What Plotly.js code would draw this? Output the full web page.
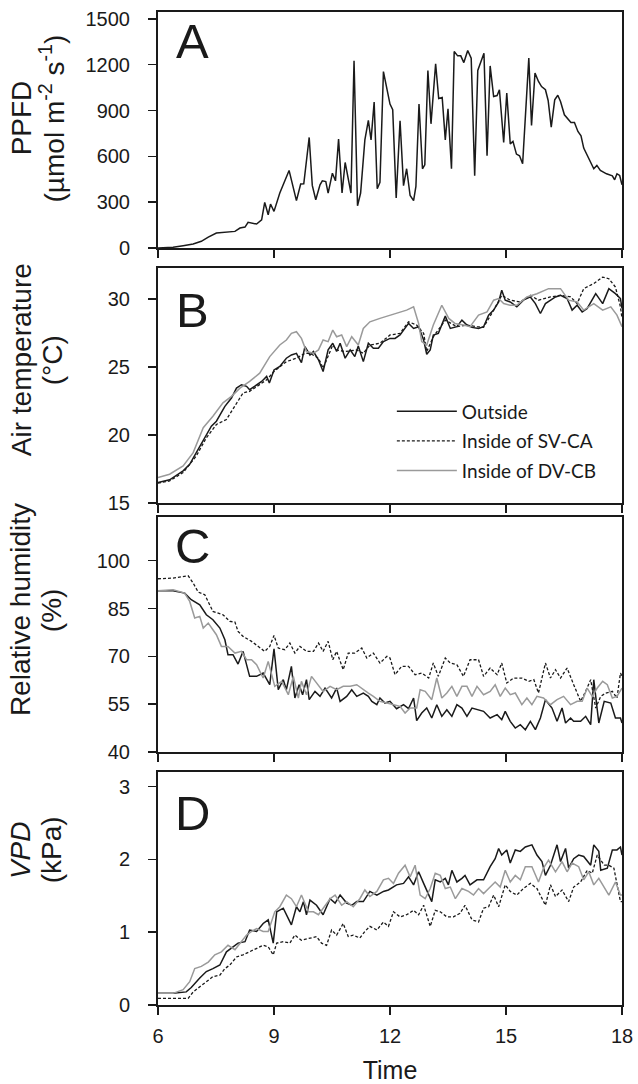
<!DOCTYPE html>
<html>
<head>
<meta charset="utf-8">
<script src="https://cdn.plot.ly/plotly-3.0.1.min.js"></script>
<style>html,body{margin:0;padding:0;background:#fff;}#chart{width:638px;height:1084px;}</style>
</head>
<body>
<div id="chart"></div>
<script>
// ---------- Panel A: PPFD (outside) ----------
const timePPFD = [6.00,6.39,6.65,6.91,7.12,7.30,7.51,7.64,7.99,8.12,8.25,8.33,8.55,8.68,8.76,8.85,8.91,9.00,9.15,9.39,9.58,9.69,9.77,9.91,9.99,10.08,10.19,10.25,10.34,10.40,10.51,10.59,10.67,10.76,10.84,10.99,11.07,11.16,11.24,11.35,11.44,11.51,11.59,11.67,11.74,11.83,12.00,12.07,12.16,12.26,12.35,12.43,12.52,12.61,12.67,12.75,12.84,12.90,12.98,13.06,13.18,13.26,13.35,13.43,13.50,13.59,13.66,13.75,13.83,13.91,14.01,14.10,14.19,14.27,14.43,14.51,14.59,14.68,14.77,14.83,14.94,15.02,15.11,15.18,15.27,15.35,15.43,15.59,15.66,15.75,15.84,15.92,16.02,16.09,16.17,16.26,16.34,16.41,16.51,16.68,16.77,16.86,16.94,17.01,17.10,17.19,17.27,17.35,17.44,17.60,17.75,17.81,17.87,17.94,18.00];
const ppfd = [0,5,15,26,44,72,98,102,109,131,137,168,157,185,299,218,288,240,360,508,310,419,420,724,410,316,414,440,435,360,490,440,713,360,560,360,1225,277,360,708,835,708,955,388,430,1155,942,905,327,833,408,519,344,310,403,942,519,545,1162,813,1206,979,985,708,911,519,1286,1258,1258,1214,1293,1243,473,1162,1275,604,1192,992,998,1036,691,1014,682,698,615,604,552,1243,802,1145,1090,1057,1036,966,791,970,1000,959,872,822,822,763,735,654,610,556,519,541,508,486,473,447,486,475,414];

// ---------- Panel B: Air temperature ----------
const timeTempOut = [6.00,6.30,6.65,6.82,6.99,7.21,7.38,7.51,7.64,7.73,7.90,8.03,8.16,8.29,8.37,8.50,8.68,8.81,8.88,9.00,9.15,9.32,9.45,9.58,9.71,9.80,9.93,10.02,10.15,10.27,10.40,10.52,10.62,10.71,10.84,10.97,11.09,11.18,11.31,11.44,11.57,11.70,11.83,12.00,12.13,12.26,12.39,12.48,12.61,12.74,12.87,12.95,13.04,13.12,13.25,13.43,13.56,13.73,13.86,13.99,14.12,14.29,14.42,14.55,14.68,14.81,14.89,14.98,15.11,15.28,15.45,15.63,15.76,15.89,16.02,16.15,16.28,16.41,16.58,16.71,16.84,16.97,17.10,17.32,17.50,17.66,17.83,17.96,18.00];
const tempOut = [16.51,16.71,17.37,17.85,18.71,19.80,20.66,21.02,21.63,22.12,22.73,23.46,23.71,23.59,23.34,23.59,23.95,24.32,23.83,24.80,25.05,25.66,25.90,26.02,25.34,26.51,25.90,26.15,25.54,24.68,26.27,26.76,26.15,26.76,25.66,26.27,25.78,26.56,25.41,26.76,26.39,26.39,26.88,27.12,27.12,27.37,27.85,28.22,27.85,27.98,27.00,25.95,26.27,27.37,27.49,28.76,27.85,27.98,28.46,28.10,27.93,27.85,27.98,28.83,29.20,29.80,30.66,29.93,29.80,29.44,29.93,30.17,29.68,28.95,29.68,29.93,30.17,30.29,30.05,29.20,29.56,29.07,29.32,30.41,29.68,30.78,30.41,30.05,29.32];
const timeTempSV = [6.00,6.30,6.65,6.99,7.25,7.51,7.77,8.03,8.20,8.37,8.68,8.81,9.00,9.32,9.58,9.80,9.93,10.15,10.27,10.52,10.62,10.84,11.14,11.31,11.48,11.74,12.00,12.26,12.48,12.69,12.87,12.95,13.12,13.43,13.73,13.99,14.25,14.42,14.68,14.89,15.11,15.37,15.63,15.84,16.15,16.41,16.67,16.84,17.01,17.27,17.50,17.66,17.83,17.96,18.00];
const tempSV = [16.46,16.63,17.24,18.46,19.80,20.78,21.15,22.37,23.10,23.22,23.83,24.07,24.68,25.41,25.66,26.02,26.02,25.66,24.93,26.63,26.27,26.15,26.27,26.02,26.63,26.76,27.37,27.49,28.34,28.10,27.49,26.15,27.24,28.46,27.98,28.10,27.98,27.93,29.20,30.29,29.93,29.80,30.29,29.93,30.17,30.29,30.17,29.68,30.78,31.15,31.63,31.51,30.90,29.44,28.59];
const timeTempDV = [6.00,6.30,6.65,6.91,7.17,7.42,7.68,7.90,8.12,8.37,8.63,8.89,9.15,9.32,9.45,9.58,9.71,9.84,10.02,10.15,10.27,10.40,10.52,10.62,10.75,10.88,11.01,11.18,11.31,11.48,11.74,12.00,12.26,12.43,12.61,12.74,12.82,12.95,13.12,13.34,13.52,13.68,13.90,14.07,14.29,14.51,14.68,14.81,14.94,15.11,15.28,15.54,15.80,16.10,16.41,16.62,16.84,17.01,17.27,17.50,17.71,17.87,18.00];
const tempDV = [16.88,17.12,17.73,18.71,20.54,21.39,22.37,22.85,23.46,23.95,24.56,25.78,26.63,27.00,27.49,27.61,27.12,26.15,26.02,26.27,27.00,26.88,27.73,27.24,27.37,26.51,27.24,26.63,27.85,28.34,28.59,28.83,29.07,29.20,29.44,28.22,26.88,26.63,28.10,29.56,28.59,28.22,28.10,27.98,28.83,29.07,29.93,30.05,29.68,29.56,29.56,30.17,30.41,30.78,30.78,29.93,29.80,29.20,29.68,29.20,29.44,28.83,27.98];

// ---------- Panel C: Relative humidity ----------
const timeRhOut = [6.00,6.39,6.69,6.86,7.08,7.25,7.42,7.60,7.73,7.81,7.94,8.07,8.20,8.37,8.55,8.72,8.89,9.00,9.11,9.24,9.32,9.45,9.54,9.65,9.74,9.84,9.91,10.06,10.19,10.32,10.49,10.62,10.71,10.88,11.01,11.14,11.31,11.44,11.53,11.66,11.74,11.87,12.00,12.17,12.35,12.48,12.61,12.69,12.82,12.95,13.08,13.21,13.34,13.47,13.60,13.73,13.86,13.99,14.12,14.25,14.42,14.59,14.77,14.89,14.98,15.11,15.24,15.37,15.50,15.63,15.76,15.89,16.02,16.19,16.32,16.45,16.54,16.67,16.75,16.93,17.06,17.19,17.27,17.40,17.54,17.71,17.83,17.96,18.00];
const rhOut = [90.58,90.58,89.84,87.75,86.19,83.05,81.48,78.87,75.21,70.51,70.51,67.59,71.56,63.72,63.72,64.76,61.11,72.39,59.54,62.68,59.54,66.85,56.93,61.11,57.97,62.68,56.41,59.02,57.45,60.06,56.93,60.06,55.88,57.45,59.54,57.45,58.50,57.45,55.88,54.84,56.93,55.36,55.88,53.58,54.84,53.58,56.93,49.82,52.23,53.79,50.66,54.84,51.18,53.27,51.18,54.84,53.79,51.18,53.79,53.27,52.75,50.66,51.70,50.14,52.75,49.61,47.52,48.57,47.00,49.61,47.00,50.66,56.41,53.79,49.61,53.79,49.09,50.66,49.61,49.61,51.18,48.57,62.68,49.09,55.88,55.36,50.66,50.66,49.09];
const timeRhSV = [6.00,6.39,6.78,6.91,7.04,7.21,7.42,7.68,7.86,7.99,8.07,8.20,8.42,8.63,8.76,8.89,9.00,9.11,9.28,9.41,9.54,9.67,9.84,10.02,10.15,10.27,10.40,10.52,10.62,10.79,10.92,11.09,11.27,11.40,11.57,11.74,11.92,12.00,12.13,12.30,12.48,12.65,12.82,13.00,13.12,13.25,13.43,13.56,13.73,13.90,14.07,14.29,14.42,14.59,14.77,14.89,15.02,15.20,15.41,15.59,15.72,15.84,16.02,16.15,16.28,16.41,16.58,16.75,16.93,17.06,17.19,17.32,17.45,17.58,17.75,17.87,17.96,18.00];
const rhSV = [94.34,94.55,95.28,92.98,90.16,89.32,84.10,83.05,80.96,80.75,77.83,76.26,74.69,72.60,71.56,73.12,76.57,72.60,72.08,74.17,71.03,73.12,71.56,71.56,74.17,71.56,74.69,68.94,71.56,65.81,71.03,71.03,72.60,69.47,71.03,67.90,69.99,69.47,64.24,66.85,66.85,64.24,64.76,63.20,67.90,63.72,69.47,67.90,67.38,63.72,68.94,68.94,63.72,66.33,64.24,67.90,61.63,63.20,63.20,62.15,62.68,58.50,67.90,63.20,65.81,63.20,66.33,61.11,55.88,59.02,62.68,53.79,57.45,58.50,59.02,56.93,64.76,63.72];
const timeRhDV = [6.00,6.39,6.69,6.82,6.95,7.08,7.17,7.30,7.42,7.51,7.64,7.81,7.99,8.16,8.29,8.42,8.55,8.72,8.85,9.02,9.20,9.37,9.50,9.63,9.71,9.84,9.97,10.10,10.27,10.45,10.62,10.79,10.97,11.14,11.31,11.44,11.57,11.74,11.92,12.09,12.26,12.39,12.52,12.69,12.78,12.91,13.08,13.21,13.34,13.47,13.60,13.73,13.86,13.99,14.12,14.25,14.42,14.59,14.72,14.85,14.98,15.11,15.24,15.41,15.54,15.67,15.80,15.97,16.15,16.32,16.49,16.67,16.84,16.97,17.10,17.23,17.36,17.50,17.62,17.75,17.87,18.00];
const rhDV = [90.58,90.89,89.84,87.23,82.01,82.53,78.87,80.44,78.35,76.78,73.12,73.12,71.03,71.56,68.94,68.94,67.38,63.20,68.42,60.59,62.15,57.97,63.72,56.93,62.15,57.97,63.72,61.63,59.02,60.59,59.54,60.59,60.59,61.11,59.54,58.50,57.45,55.88,55.36,54.84,54.32,52.23,53.79,53.79,59.54,59.02,56.41,63.20,56.93,58.50,60.59,57.45,60.59,60.59,57.45,60.59,57.97,59.02,61.11,57.45,60.06,57.97,58.50,54.84,56.93,54.84,57.45,56.93,54.84,56.41,57.45,54.84,55.88,55.88,60.06,57.45,60.06,62.15,61.11,56.93,57.45,60.06];

// ---------- Panel D: VPD ----------
const timeVpdOut = [6.00,6.39,6.73,6.86,7.08,7.25,7.42,7.60,7.77,7.94,8.07,8.25,8.37,8.55,8.72,8.85,8.98,9.07,9.24,9.45,9.58,9.67,9.76,9.84,9.93,10.10,10.27,10.45,10.58,10.71,10.88,11.01,11.14,11.31,11.48,11.66,11.83,11.96,12.17,12.35,12.48,12.61,12.74,12.87,13.00,13.08,13.17,13.30,13.43,13.51,13.60,13.73,13.86,13.94,14.07,14.25,14.42,14.59,14.72,14.81,14.89,15.02,15.11,15.24,15.37,15.50,15.67,15.80,15.93,16.02,16.15,16.32,16.41,16.54,16.62,16.75,16.88,17.01,17.19,17.27,17.40,17.45,17.62,17.75,17.87,17.96,18.00];
const vpdOut = [0.16,0.16,0.18,0.24,0.37,0.46,0.50,0.55,0.73,0.80,0.85,0.87,1.03,1.01,1.12,1.17,0.85,1.28,1.33,1.10,1.35,1.28,1.42,1.24,1.44,1.37,1.24,1.46,1.40,1.51,1.40,1.37,1.42,1.42,1.56,1.51,1.56,1.58,1.65,1.67,1.76,1.65,1.83,1.67,1.51,1.42,1.72,1.69,1.74,1.65,1.85,1.69,1.74,1.78,1.65,1.72,1.72,1.90,2.01,2.15,2.06,2.13,1.95,2.13,2.11,2.17,2.20,2.06,1.97,1.78,1.92,2.20,1.97,2.15,1.88,2.01,2.06,2.04,1.92,2.20,2.11,1.85,1.88,2.13,2.13,2.17,2.06];
const timeVpdSV = [6.00,6.39,6.78,6.91,7.08,7.25,7.42,7.60,7.73,7.86,8.03,8.20,8.37,8.55,8.72,8.85,8.98,9.07,9.24,9.41,9.54,9.71,9.93,10.10,10.23,10.36,10.49,10.62,10.79,10.92,11.05,11.22,11.35,11.48,11.66,11.83,11.96,12.09,12.26,12.43,12.61,12.74,12.87,13.04,13.17,13.30,13.47,13.64,13.81,13.94,14.12,14.29,14.42,14.55,14.68,14.81,14.98,15.11,15.28,15.45,15.63,15.80,16.02,16.15,16.28,16.45,16.62,16.75,16.93,17.10,17.23,17.36,17.54,17.66,17.79,17.96,18.00];
const vpdSV = [0.09,0.09,0.09,0.18,0.25,0.32,0.39,0.41,0.50,0.55,0.66,0.69,0.73,0.78,0.82,0.80,0.69,0.85,0.87,0.85,0.96,0.89,0.92,0.94,0.85,0.82,1.03,0.96,1.12,0.94,0.96,0.92,1.01,1.08,1.03,1.14,1.08,1.28,1.21,1.24,1.30,1.24,1.37,1.08,1.30,1.28,1.21,1.21,1.26,1.37,1.17,1.14,1.33,1.35,1.51,1.35,1.65,1.56,1.51,1.60,1.67,1.60,1.37,1.65,1.49,1.58,1.42,1.62,1.69,1.85,1.81,2.06,1.92,1.92,1.88,1.42,1.42];
const timeVpdDV = [6.00,6.39,6.65,6.82,6.95,7.12,7.30,7.47,7.64,7.81,7.99,8.12,8.29,8.42,8.55,8.72,8.85,9.02,9.15,9.32,9.45,9.58,9.71,9.89,10.02,10.15,10.27,10.45,10.58,10.75,10.88,11.05,11.22,11.35,11.48,11.66,11.83,11.96,12.09,12.22,12.39,12.52,12.65,12.78,12.91,13.04,13.17,13.30,13.43,13.56,13.69,13.86,14.03,14.16,14.29,14.42,14.59,14.72,14.85,14.98,15.11,15.24,15.37,15.50,15.67,15.84,15.97,16.10,16.28,16.45,16.58,16.71,16.88,17.01,17.14,17.27,17.40,17.54,17.66,17.83,17.96,18.00];
const vpdDV = [0.16,0.16,0.21,0.32,0.50,0.53,0.59,0.69,0.73,0.82,0.76,0.85,0.96,1.01,1.05,1.01,1.01,1.28,1.35,1.51,1.46,1.35,1.51,1.28,1.28,1.24,1.33,1.46,1.51,1.37,1.42,1.35,1.46,1.58,1.49,1.56,1.72,1.74,1.67,1.81,1.92,1.76,1.92,1.51,1.46,1.60,1.81,1.78,1.60,1.62,1.46,1.60,1.56,1.51,1.60,1.53,1.62,1.69,1.62,1.85,1.69,1.78,1.72,1.90,1.90,1.69,1.88,1.99,1.83,1.97,1.83,1.95,1.90,1.72,1.83,1.65,1.74,1.62,1.51,1.69,1.51,1.51];

// ---------- Labels ----------
const seriesNames = ['Outside', 'Inside of SV-CA', 'Inside of DV-CB'];
const panelLetters = ['A', 'B', 'C', 'D'];
const xTicks = [6, 9, 12, 15, 18];
const yTicksA = [0, 300, 600, 900, 1200, 1500];
const yTicksB = [15, 20, 25, 30];
const yTicksC = [40, 55, 70, 85, 100];
const yTicksD = [0, 1, 2, 3];
const yTitles = [
  ['PPFD', '(µmol m<sup>-2</sup> s<sup>-1</sup>)'],
  ['Air temperature', '(°C)'],
  ['Relative humidity', '(%)'],
  ['<i>VPD</i>', '(kPa)']
];
const xTitle = 'Time';

// ---------- Styles ----------
const BLACK = '#1a1a1a';
const GRAY = '#9a9a9a';
const styles = [
  {color: BLACK, width: 1.5, dash: 'solid'},
  {color: BLACK, width: 1.3, dash: '3px,2px'},
  {color: GRAY, width: 1.5, dash: 'solid'}
];
const FONT = 'Arial, Liberation Sans, sans-serif';
const LEGFONT = 'Lato, Open Sans, sans-serif';

function tr(x, y, xa, ya, i, showLegend) {
  return {x: x, y: y, xaxis: xa, yaxis: ya, type: 'scatter', mode: 'lines',
    name: seriesNames[i], legendgroup: 'g' + i, showlegend: showLegend,
    line: styles[i], hoverinfo: 'skip'};
}

const data = [
  {x: timePPFD, y: ppfd, xaxis: 'x', yaxis: 'y', type: 'scatter', mode: 'lines', name: 'PPFD', showlegend: false, line: {color: BLACK, width: 1.5}},
  tr(timeTempOut, tempOut, 'x2', 'y2', 0, true),
  tr(timeTempSV, tempSV, 'x2', 'y2', 1, true),
  tr(timeTempDV, tempDV, 'x2', 'y2', 2, true),
  tr(timeRhOut, rhOut, 'x3', 'y3', 0, false),
  tr(timeRhSV, rhSV, 'x3', 'y3', 1, false),
  tr(timeRhDV, rhDV, 'x3', 'y3', 2, false),
  tr(timeVpdOut, vpdOut, 'x4', 'y4', 0, false),
  tr(timeVpdSV, vpdSV, 'x4', 'y4', 1, false),
  tr(timeVpdDV, vpdDV, 'x4', 'y4', 2, false)
];

// plot area: x 158..622, y 12..1005
const domains = [[0.7623, 1.0], [0.5055, 0.7422], [0.2548, 0.4914], [0.0, 0.2346]];
const yRanges = [[0, 1545], [15, 32.3], [40, 113.7], [0, 3.2]];
const yTickSets = [yTicksA, yTicksB, yTicksC, yTicksD];

function xAxis(i) {
  const ax = {
    domain: [0, 1], range: [6, 18], anchor: i === 0 ? 'y' : 'y' + (i + 1),
    tickvals: xTicks, ticktext: xTicks.map(String), showticklabels: i === 3,
    ticks: 'outside', ticklen: 8, tickwidth: 1.5, tickcolor: BLACK,
    showline: true, linecolor: BLACK, linewidth: 2, mirror: true,
    showgrid: false, zeroline: false,
    tickfont: {family: FONT, size: 20, color: BLACK}, ticklabelstandoff: 4
  };
  if (i === 3) {
    ax.title = {text: xTitle, font: {family: FONT, size: 25, color: BLACK}, standoff: 25};
  }
  return ax;
}
function yAxis(i) {
  return {
    domain: domains[i], range: yRanges[i], anchor: i === 0 ? 'x' : 'x' + (i + 1),
    tickvals: yTickSets[i], ticktext: yTickSets[i].map(String),
    ticks: 'outside', ticklen: 8, tickwidth: 1.5, tickcolor: BLACK,
    showline: true, linecolor: BLACK, linewidth: 2, mirror: true,
    showgrid: false, zeroline: false,
    tickfont: {family: FONT, size: 20, color: BLACK}, ticklabelstandoff: 14
  };
}

const letterY = [0.9703, 0.6999, 0.4622, 0.1929];
const titleY = [0.893, 0.6495, 0.3978, 0.1561];
const annotations = [];
panelLetters.forEach((L, i) => {
  annotations.push({text: L, xref: 'paper', yref: 'paper', x: 0.0754, y: letterY[i],
    xanchor: 'center', yanchor: 'middle', showarrow: false,
    font: {family: FONT, size: 49, color: BLACK}});
});
yTitles.forEach((lines, i) => {
  annotations.push({text: lines[0], xref: 'paper', yref: 'paper', x: -0.295, y: titleY[i],
    xanchor: 'center', yanchor: 'middle', textangle: -90, showarrow: false,
    font: {family: FONT, size: 28, color: BLACK}});
  annotations.push({text: lines[1], xref: 'paper', yref: 'paper', x: -0.228, y: titleY[i],
    xanchor: 'center', yanchor: 'middle', textangle: -90, showarrow: false,
    font: {family: FONT, size: 28, color: BLACK}});
});

const layout = {
  width: 638, height: 1084,
  margin: {l: 158, r: 16, t: 12, b: 79},
  paper_bgcolor: '#fff', plot_bgcolor: '#fff',
  showlegend: true,
  legend: {x: 0.504, y: 0.617, xanchor: 'left', yanchor: 'top',
    bgcolor: 'rgba(0,0,0,0)', borderwidth: 0,
    font: {family: LEGFONT, size: 19, color: BLACK},
    itemwidth: 60, tracegroupgap: 2},
  annotations: annotations,
  xaxis: xAxis(0), xaxis2: xAxis(1), xaxis3: xAxis(2), xaxis4: xAxis(3),
  yaxis: yAxis(0), yaxis2: yAxis(1), yaxis3: yAxis(2), yaxis4: yAxis(3)
};

Plotly.newPlot('chart', data, layout, {staticPlot: true, displayModeBar: false});
</script>
</body>
</html>
